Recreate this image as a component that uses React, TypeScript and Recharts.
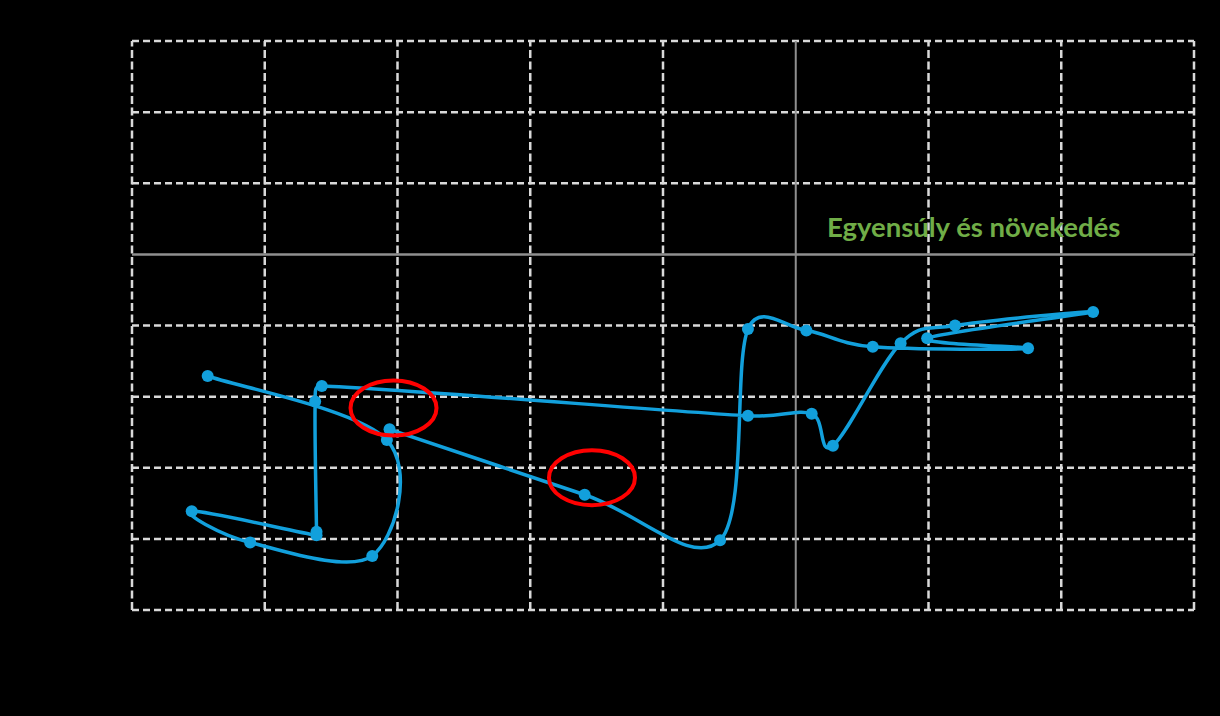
import React from "react";
import { LineChart, Line, XAxis, YAxis, ReferenceLine, ReferenceDot } from "recharts";

// path of the yearly points, in drawing order
const xValues = [-3.06, -1.59, -0.57, -0.36, 0.08, 0.58, 1.75, 0.99, 2.24, 1.2, 0.79, 0.28, 0.12, -0.36, -3.57, -3.62, -3.61, -3.61, -4.55, -4.11, -3.19, -3.08, -4.43];
const yValues = [-2.46, -3.38, -4.02, -1.05, -1.07, -1.3, -1.32, -1.18, -0.81, -1.0, -1.25, -2.69, -2.24, -2.27, -1.85, -2.07, -3.9, -3.95, -3.61, -4.05, -4.24, -2.61, -1.71];

const xTicks = [-5, -4, -3, -2, -1, 0, 1, 2, 3];
const yTicks = [-5, -4, -3, -2, -1, 0, 1, 2, 3];

// highlighted points (red rings)
const circledX = [-3.03, -1.535];
const circledY = [-2.16, -3.14];

const quadrantLabel = "Egyensúly és növekedés";

const data = xValues.map((x, i) => ({ x, y: yValues[i] }));

const BLUE = "#12A0DC";
const GRID = "#d9d9d9";

// smooth line like the spreadsheet "smoothed line" option
function ctrl(p: number[], a: number[], b: number[], d: number, sign: number) {
  let tx = (b[0] - a[0]) / 6;
  let ty = (b[1] - a[1]) / 6;
  const len = Math.hypot(tx, ty);
  const max = d * 0.5;
  if (len > max && len > 0) {
    tx *= max / len;
    ty *= max / len;
  }
  return [p[0] + sign * tx, p[1] + sign * ty];
}

function smoothCurve(context: any) {
  let pts: number[][] = [];
  return {
    areaStart() {},
    areaEnd() {},
    lineStart() {
      pts = [];
    },
    point(x: number, y: number) {
      pts.push([x, y]);
    },
    lineEnd() {
      if (!pts.length) return;
      context.moveTo(pts[0][0], pts[0][1]);
      for (let i = 0; i < pts.length - 1; i++) {
        const p0 = pts[Math.max(i - 1, 0)];
        const p1 = pts[i];
        const p2 = pts[i + 1];
        const p3 = pts[Math.min(i + 2, pts.length - 1)];
        const d = Math.hypot(p2[0] - p1[0], p2[1] - p1[1]);
        const c1 = ctrl(p1, p0, p2, d, 1);
        const c2 = ctrl(p2, p1, p3, d, -1);
        context.bezierCurveTo(c1[0], c1[1], c2[0], c2[1], p2[0], p2[1]);
      }
    },
  };
}

const Ring = (props: any) => (
  <ellipse cx={props.cx} cy={props.cy} rx={43} ry={27.5} fill="none" stroke="#FF0000" strokeWidth={4} />
);

export default function App() {
  return (
    <div style={{ position: "absolute", left: 0, top: 0, width: 1220, height: 716, background: "#000" }}>
      <LineChart width={1220} height={716} data={data} margin={{ top: 41, right: 26, bottom: 106, left: 132 }}>
        <XAxis
          type="number"
          dataKey="x"
          domain={[-5, 3]}
          ticks={xTicks}
          tick={false}
          tickLine={false}
          axisLine={false}
          height={0}
        />
        <YAxis
          type="number"
          domain={[-5, 3]}
          ticks={yTicks}
          tick={false}
          tickLine={false}
          axisLine={false}
          width={0}
        />
        {xTicks.filter((t) => t !== 0).map((t) => (
          <ReferenceLine key={"gx" + t} x={t} stroke={GRID} strokeWidth={2.5} strokeDasharray="8 3.5" />
        ))}
        {yTicks.filter((t) => t !== 0).map((t) => (
          <ReferenceLine key={"gy" + t} y={t} stroke={GRID} strokeWidth={2.5} strokeDasharray="7 4" />
        ))}
        <ReferenceLine x={0} stroke="#8f8f8f" strokeWidth={2} />
        <ReferenceLine y={0} stroke="#8f8f8f" strokeWidth={2.5} />
        <Line
          dataKey="y"
          type={smoothCurve as any}
          stroke={BLUE}
          strokeWidth={3.5}
          dot={{ r: 6, fill: BLUE, stroke: BLUE, strokeWidth: 0 }}
          activeDot={false}
          isAnimationActive={false}
        />
        {circledX.map((cx, i) => (
          <ReferenceDot key={i} x={cx} y={circledY[i]} r={1} shape={Ring} />
        ))}
        <ReferenceDot
          x={1.34}
          y={0.385}
          r={0}
          fill="none"
          stroke="none"
          label={{
            value: quadrantLabel,
            position: "center",
            fill: "#70AD47",
            fontSize: 27.5,
            fontWeight: 700,
            fontFamily: "Lato, sans-serif",
          }}
        />
      </LineChart>
    </div>
  );
}
